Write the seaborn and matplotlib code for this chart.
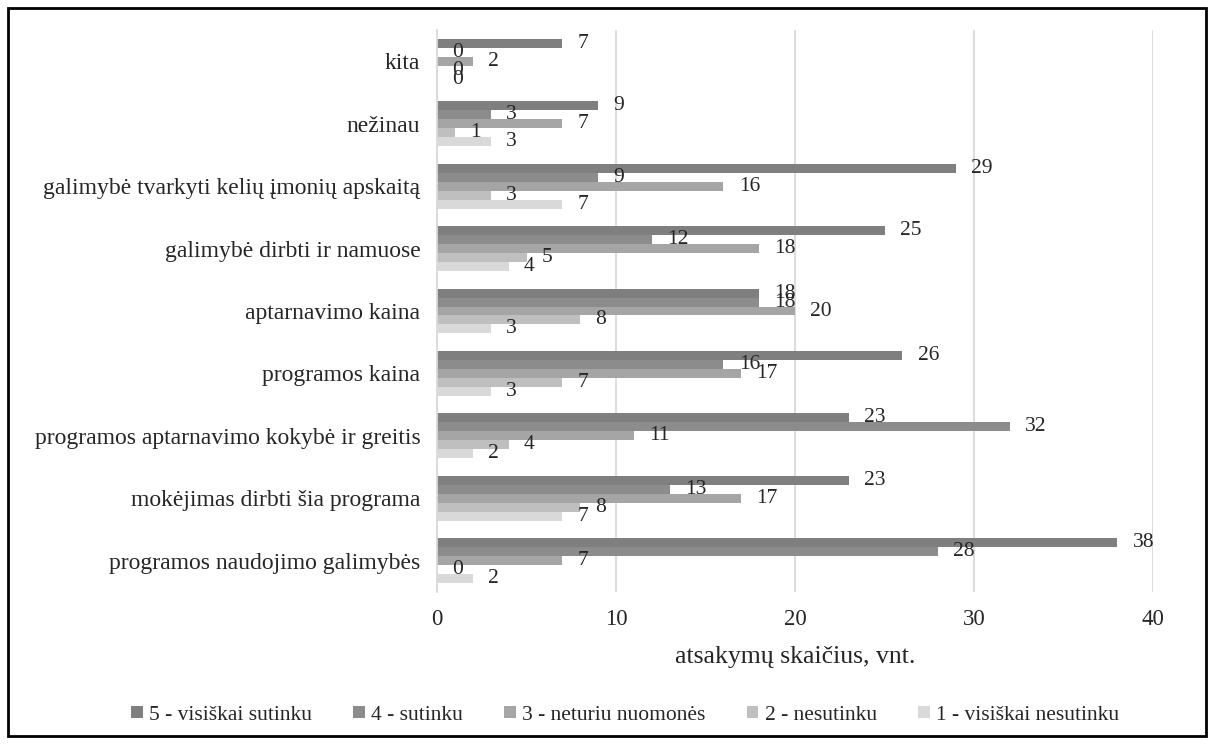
import matplotlib.pyplot as plt
import pandas as pd
import seaborn as sns

categories = ["kita", "nežinau", "galimybė tvarkyti kelių įmonių apskaitą",
              "galimybė dirbti ir namuose", "aptarnavimo kaina", "programos kaina",
              "programos aptarnavimo kokybė ir greitis", "mokėjimas dirbti šia programa",
              "programos naudojimo galimybės"]
series = ["5 - visiškai sutinku", "4 - sutinku", "3 - neturiu nuomonės",
          "2 - nesutinku", "1 - visiškai nesutinku"]
s5 = [7, 9, 29, 25, 18, 26, 23, 23, 38]
s4 = [0, 3, 9, 12, 18, 16, 32, 13, 28]
s3 = [2, 7, 16, 18, 20, 17, 11, 17, 7]
s2 = [0, 1, 3, 5, 8, 7, 4, 8, 0]
s1 = [0, 3, 7, 4, 3, 3, 2, 7, 2]
colors = ["#7f7f7f", "#8c8c8c", "#a5a5a5", "#bfbfbf", "#d9d9d9"]

rows = []
for name, vals in zip(series, [s5, s4, s3, s2, s1]):
    for c, v in zip(categories, vals):
        rows.append({"kategorija": c, "atsakymai": v, "serija": name})
df = pd.DataFrame(rows)

sns.set_style("white")
plt.rcParams["font.family"] = ["Liberation Serif", "DejaVu Serif"]

fig = plt.figure(figsize=(12.14, 7.44), dpi=100)
ax = fig.add_axes([437/1214, 1 - 592/744, (1153-437)/1214, (592-30)/744])

sns.barplot(data=df, y="kategorija", x="atsakymai", hue="serija",
            order=categories, hue_order=series, palette=colors,
            orient="h", width=0.72, ax=ax, saturation=1, errorbar=None,
            linewidth=0)

# etiketes prie stulpeliu galu
for cont in ax.containers:
    ax.bar_label(cont, fmt="%d", padding=11, fontsize=15.5)

ax.set_xlim(0, 40)
ax.set_xticks([0, 10, 20, 30, 40])
ax.grid(axis="x", color="#d9d9d9", linewidth=1.3)
ax.set_axisbelow(True)
for s in ["top", "right", "bottom"]:
    ax.spines[s].set_visible(False)
ax.spines["left"].set_color("#d9d9d9")
ax.spines["left"].set_linewidth(1.3)
ax.tick_params(axis="y", length=0, labelsize=17, pad=12)
ax.tick_params(axis="x", length=0, labelsize=16.5, pad=12)
ax.set_ylabel("")
ax.set_xlabel("atsakymų skaičius, vnt.", fontsize=18.5, labelpad=12)

ax.legend(loc="lower center", bbox_to_anchor=(625/1214, 0),
          bbox_transform=fig.transFigure, ncol=5,
          frameon=False, fontsize=15.5, handlelength=0.55, handleheight=0.55,
          columnspacing=1.9, handletextpad=0.3)

fig.patches.append(plt.Rectangle((8/1214, 8/744), 1198/1214, 728/744,
                                 transform=fig.transFigure, fill=False,
                                 edgecolor="black", linewidth=2))
plt.savefig("out.png", dpi=100)
